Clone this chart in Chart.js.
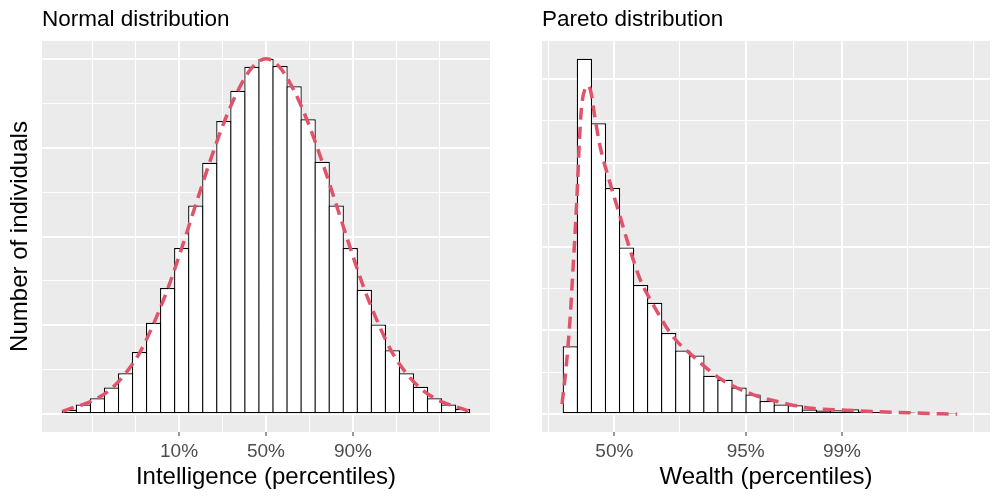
<!DOCTYPE html>
<html>
<head>
<meta charset="utf-8">
<script src="https://cdn.jsdelivr.net/npm/chart.js@4.4.1/dist/chart.umd.min.js"></script>
<style>
  body { margin: 0; background: #fff; }
  .panel { position: absolute; top: 0; width: 500px; height: 500px; }
</style>
</head>
<body>
<div class="panel" style="left:0"><canvas id="normal"></canvas></div>
<div class="panel" style="left:500px"><canvas id="pareto"></canvas></div>
<script>
const FONT = "'Liberation Sans', Arial, sans-serif";

// left panel: intelligence, x in standard deviations
const normalBins = [-2.8966, -2.6897, -2.4828, -2.2759, -2.0690, -1.8621, -1.6552, -1.4483, -1.2414, -1.0345,
  -0.8276, -0.6207, -0.4138, -0.2069, 0, 0.2069, 0.4138, 0.6207, 0.8276, 1.0345,
  1.2414, 1.4483, 1.6552, 1.8621, 2.0690, 2.2759, 2.4828, 2.6897, 2.8966];
const normalCounts = [5, 11, 18, 30, 46, 70, 103, 142, 187, 235, 283, 330, 364, 391, 400,
  392, 369, 332, 284, 235, 187, 140, 101, 72, 46, 31, 18, 11, 6];
const normalCurveX = [-3, -2.8966, -2.6897, -2.4828, -2.2759, -2.0690, -1.8621, -1.6552, -1.4483, -1.2414, -1.0345,
  -0.8276, -0.6207, -0.4138, -0.2069, 0, 0.2069, 0.4138, 0.6207, 0.8276, 1.0345,
  1.2414, 1.4483, 1.6552, 1.8621, 2.0690, 2.2759, 2.4828, 2.6897, 2.8966, 3];
const normalCurveY = [3, 6, 11, 18, 29, 46, 69, 102, 141, 187, 236, 284, 328, 364, 390, 400,
  390, 364, 328, 284, 236, 187, 141, 102, 69, 46, 29, 18, 11, 6, 3];
const normalMajor = [-1.2816, 0, 1.2816];
const normalLabels = ['10%', '50%', '90%'];
const normalMinor = [-2.5631, -1.9224, -0.6408, 0.6408, 1.9224, 2.5631];

// right panel: wealth, x in bin widths
const paretoBins = [0.5, 1.5, 2.5, 3.5, 4.5, 5.5, 6.5, 7.5, 8.5, 9.5, 10.5, 11.5, 12.5, 13.5,
  14.5, 15.5, 16.5, 17.5, 18.5, 19.5, 20.5, 21.5, 22.5, 23.5, 24.5, 25.5, 26.5, 27.5];
const paretoCounts = [81, 424, 347, 270, 199, 154, 133, 97, 76, 70, 46, 41, 32, 23.5,
  15.8, 11.5, 10.7, 5.6, 4.4, 4.8, 6, 3.2, 2.7, 1.2, 2, 1.2, 0.8, 0.5];
const paretoCurveX = [-0.09, 0.19, 0.48, 0.69, 0.87, 1.01, 1.15, 1.29, 1.54, 1.76, 1.97, 2.22, 2.61,
  3.32, 4.0, 4.64, 5.46, 6.52, 7.73, 9.37, 11.2, 13.4, 15.77, 17.7, 20.1, 22.5, 25.0, 28.0];
const paretoCurveY = [12, 54, 113, 173, 226, 274, 327, 365, 388, 392, 384, 357, 320,
  276, 238, 202, 161, 127, 94, 67, 42, 24, 13, 7, 4.8, 3, 1.5, 0];
const paretoMajor = [3.63, 12.97, 19.82];
const paretoLabels = ['50%', '95%', '99%'];
const paretoMinor = [-1.04, 8.30, 16.40, 24.49, 29.16];

const yMajor = [0, 100, 200, 300, 400];
const yMinor = [50, 150, 250, 350];

const panelBg = {
  id: 'panelBg',
  beforeDraw(chart) {
    const { ctx, chartArea: a } = chart;
    ctx.save();
    ctx.fillStyle = '#EBEBEB';
    ctx.fillRect(a.left, a.top, a.width, a.height);
    ctx.restore();
  }
};

function histChart(id, o) {
  const isMajor = v => o.major.indexOf(v) >= 0;
  return new Chart(document.getElementById(id), {
    type: 'bar',
    data: {
      datasets: [
        {
          type: 'line', order: 0,
          data: o.curveX.map((x, i) => ({ x: x, y: o.curveY[i] })),
          borderColor: '#DF536B', borderWidth: 3.5, borderDash: [12, 7],
          pointRadius: 0, cubicInterpolationMode: 'monotone', fill: false
        },
        {
          type: 'bar', order: 1,
          data: o.bins.map((x, i) => ({ x: x, y: o.counts[i] })),
          backgroundColor: '#ffffff', borderColor: '#000000', borderWidth: 1.25,
          // bars overlap by the border width so neighbours share a single outline
          borderSkipped: false, barPercentage: 1.089, categoryPercentage: 1
        }
      ]
    },
    options: {
      responsive: true, maintainAspectRatio: false, animation: false,
      layout: { padding: { left: 0, right: 10, top: 0, bottom: 0 } },
      plugins: {
        legend: { display: false },
        tooltip: { enabled: false },
        title: {
          display: true, text: o.title, align: 'start', fullSize: false, color: '#000',
          font: { family: FONT, size: 22.5, weight: 'normal' }, padding: { top: 6, bottom: 8 }
        }
      },
      scales: {
        x: {
          type: 'linear', min: o.xMin, max: o.xMax, offset: false,
          afterBuildTicks: s => { s.ticks = o.minor.concat(o.major).sort((a, b) => a - b).map(v => ({ value: v })); },
          afterFit: s => { s.height = 68; },
          ticks: {
            autoSkip: false, maxRotation: 0, padding: 4.5, color: '#4D4D4D',
            font: { family: FONT, size: 19 },
            callback: v => { const i = o.major.indexOf(v); return i < 0 ? '' : o.labels[i]; }
          },
          grid: {
            offset: false, color: '#ffffff',
            lineWidth: c => (c.tick && isMajor(c.tick.value)) ? 2 : 1,
            tickLength: 4, tickWidth: 1,
            tickColor: c => (c.tick && isMajor(c.tick.value)) ? '#333333' : 'rgba(0,0,0,0)'
          },
          border: { display: false },
          title: {
            display: true, text: o.xTitle, color: '#000',
            font: { family: FONT, size: 24 }, padding: { top: 0, bottom: 8 }
          }
        },
        y: {
          type: 'linear', min: o.yMin, max: o.yMax,
          afterBuildTicks: s => { s.ticks = yMinor.concat(yMajor).sort((a, b) => a - b).map(v => ({ value: v })); },
          afterFit: s => { s.width = 42; },
          ticks: { display: false },
          grid: {
            color: '#ffffff', drawTicks: false,
            lineWidth: c => (c.tick && yMajor.indexOf(c.tick.value) >= 0) ? 2 : 1
          },
          border: { display: false },
          title: {
            display: !!o.yTitle, text: o.yTitle || '', color: '#000',
            font: { family: FONT, size: 24 }, padding: { top: 5.5, bottom: 0 }
          }
        }
      }
    },
    plugins: [panelBg]
  });
}

window.addEventListener('load', function () {
  histChart('normal', {
    title: 'Normal distribution', xTitle: 'Intelligence (percentiles)', yTitle: 'Number of individuals',
    bins: normalBins, counts: normalCounts, curveX: normalCurveX, curveY: normalCurveY,
    major: normalMajor, labels: normalLabels, minor: normalMinor,
    xMin: -3.3, xMax: 3.3, yMin: -20, yMax: 420
  });
  histChart('pareto', {
    title: 'Pareto distribution', xTitle: 'Wealth (percentiles)', yTitle: null,
    bins: paretoBins, counts: paretoCounts, curveX: paretoCurveX, curveY: paretoCurveY,
    major: paretoMajor, labels: paretoLabels, minor: paretoMinor,
    xMin: -1.515, xMax: 30.35, yMin: -21.2, yMax: 445.2
  });
});
</script>
</body>
</html>
